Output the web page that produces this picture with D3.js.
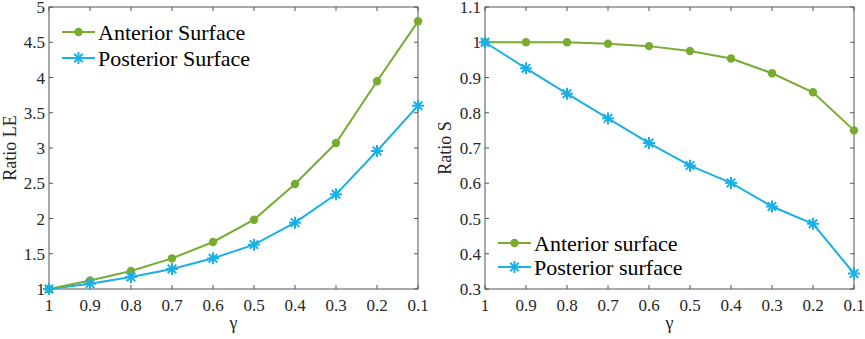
<!DOCTYPE html>
<html>
<head>
<meta charset="utf-8">
<script src="https://cdn.jsdelivr.net/npm/d3@7"></script>
</head>
<body style="margin:0">
<svg width="865" height="339" font-family="Liberation Serif"></svg>
<script>
// gamma values along the x axis (reversed, 1 -> 0.1)
var gamma = [1, 0.9, 0.8, 0.7, 0.6, 0.5, 0.4, 0.3, 0.2, 0.1];

// left panel: Ratio LE
var leAnterior  = [1.00, 1.12, 1.255, 1.435, 1.667, 1.983, 2.489, 3.071, 3.946, 4.797];
var lePosterior = [1.00, 1.076, 1.17, 1.284, 1.435, 1.629, 1.941, 2.343, 2.957, 3.60];
var leTicks = [1, 1.5, 2, 2.5, 3, 3.5, 4, 4.5, 5];

// right panel: Ratio S
var sAnterior  = [1.00, 1.00, 1.00, 0.996, 0.989, 0.975, 0.954, 0.912, 0.858, 0.750];
var sPosterior = [1.00, 0.926, 0.854, 0.784, 0.714, 0.650, 0.601, 0.534, 0.485, 0.344];
var sTicks = [0.3, 0.4, 0.5, 0.6, 0.7, 0.8, 0.9, 1, 1.1];

var green = "#77ac30", blue = "#1ab0e6";
var svg = d3.select("svg");

function asterisk(g, r) {
    for (var a = 0; a < 4; a++) {
        var ang = a * Math.PI / 4;
        g.append("line")
            .attr("x1", -r * Math.cos(ang)).attr("y1", -r * Math.sin(ang))
            .attr("x2", r * Math.cos(ang)).attr("y2", r * Math.sin(ang))
            .attr("stroke", blue).attr("stroke-width", 2);
    }
}

function txt(g, x, y, size, s) {
    return g.append("text").attr("x", x).attr("y", y)
        .attr("font-family", "Liberation Serif").attr("font-size", size)
        .attr("fill", "#262626").text(s);
}

function panel(opt) {
    var x = d3.scaleLinear().domain([1, 0.1]).range([opt.left, opt.right]);
    var y = d3.scaleLinear().domain(opt.ydom).range([289, 7]);
    var g = svg.append("g");

    // box
    g.append("rect")
        .attr("x", opt.left).attr("y", 7)
        .attr("width", opt.right - opt.left).attr("height", 282)
        .attr("fill", "none").attr("stroke", "#555").attr("stroke-width", 1);

    // ticks inside on all four sides
    gamma.forEach(function(v) {
        g.append("line").attr("x1", x(v)).attr("x2", x(v)).attr("y1", 289).attr("y2", 285).attr("stroke", "#555");
        g.append("line").attr("x1", x(v)).attr("x2", x(v)).attr("y1", 7).attr("y2", 11).attr("stroke", "#555");
        txt(g, x(v), 311, 17, v).attr("text-anchor", "middle");
    });
    opt.ticks.forEach(function(v) {
        g.append("line").attr("x1", opt.left).attr("x2", opt.left + 4).attr("y1", y(v)).attr("y2", y(v)).attr("stroke", "#555");
        g.append("line").attr("x1", opt.right).attr("x2", opt.right - 4).attr("y1", y(v)).attr("y2", y(v)).attr("stroke", "#555");
        txt(g, opt.left - 4, y(v) + 6, 17, v).attr("text-anchor", "end");
    });

    // axis labels
    txt(g, (opt.left + opt.right) / 2, 329, 18, "γ").attr("text-anchor", "middle");
    txt(g, 0, 0, 18, opt.ylabel)
        .attr("transform", "translate(" + opt.ylabX + ",148) rotate(-90)")
        .attr("text-anchor", "middle");

    var line = d3.line()
        .x(function(d, i) { return x(gamma[i]); })
        .y(function(d) { return y(d); });

    g.append("path").datum(opt.post).attr("d", line)
        .attr("fill", "none").attr("stroke", blue).attr("stroke-width", 2);
    g.append("path").datum(opt.ant).attr("d", line)
        .attr("fill", "none").attr("stroke", green).attr("stroke-width", 2);

    g.selectAll(".dot").data(opt.ant).enter().append("circle")
        .attr("cx", function(d, i) { return x(gamma[i]); })
        .attr("cy", function(d) { return y(d); })
        .attr("r", 4.2).attr("fill", green);

    opt.post.forEach(function(d, i) {
        asterisk(g.append("g").attr("transform", "translate(" + x(gamma[i]) + "," + y(d) + ")"), 6);
    });

    // legend
    var lx = opt.legX, ly = opt.legY, gap = opt.legGap;
    g.append("line").attr("x1", lx).attr("x2", lx + 33).attr("y1", ly).attr("y2", ly)
        .attr("stroke", green).attr("stroke-width", 2);
    g.append("circle").attr("cx", lx + 16.5).attr("cy", ly).attr("r", 4.2).attr("fill", green);
    txt(g, lx + 36, ly + 7.5, 22, opt.names[0]).attr("fill", "#000");
    g.append("line").attr("x1", lx).attr("x2", lx + 33).attr("y1", ly + gap).attr("y2", ly + gap)
        .attr("stroke", blue).attr("stroke-width", 2);
    asterisk(g.append("g").attr("transform", "translate(" + (lx + 16.5) + "," + (ly + gap) + ")"), 6);
    txt(g, lx + 36, ly + gap + 7.5, 22, opt.names[1]).attr("fill", "#000");
}

panel({
    left: 49, right: 418, ydom: [1, 5], ticks: leTicks,
    ant: leAnterior, post: lePosterior, ylabel: "Ratio LE", ylabX: 16,
    legX: 62, legY: 32, legGap: 26, names: ["Anterior Surface", "Posterior Surface"]
});

panel({
    left: 485, right: 854, ydom: [0.3, 1.1], ticks: sTicks,
    ant: sAnterior, post: sPosterior, ylabel: "Ratio S", ylabX: 451,
    legX: 498, legY: 243, legGap: 24, names: ["Anterior surface", "Posterior surface"]
});
</script>
</body>
</html>
